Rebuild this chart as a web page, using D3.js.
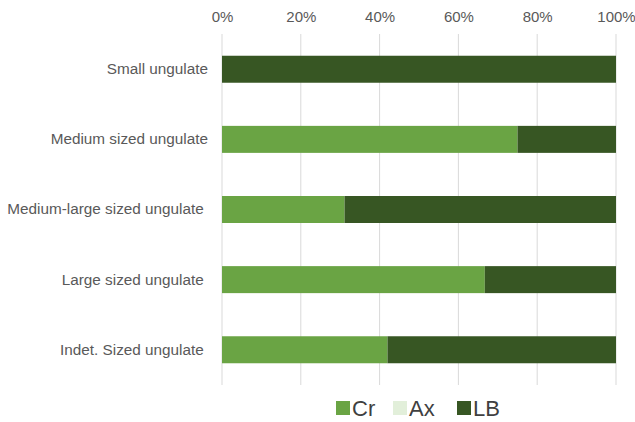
<!DOCTYPE html>
<html>
<head>
<meta charset="utf-8">
<script src="https://cdn.jsdelivr.net/npm/d3@7"></script>
<style>
  body { margin: 0; background: #fff; }
  svg { font-family: "Liberation Sans", Arial, sans-serif; }
</style>
</head>
<body>
<svg id="chart" width="635" height="422"></svg>
<script>
// Categories (top to bottom) and share of each element group per category
const categories = [
  "Small ungulate",
  "Medium sized ungulate",
  "Medium-large sized ungulate ",
  "Large sized ungulate ",
  "Indet. Sized ungulate "
];
const seriesNames = ["Cr", "Ax", "LB"];
const crValues = [0, 75, 31.1, 66.7, 42.0];
const axValues = [0, 0, 0, 0, 0];
const lbValues = [100, 25, 68.9, 33.3, 58.0];
const tickValues = [0, 0.2, 0.4, 0.6, 0.8, 1.0];
const colors = ["#6aa444", "#e2efda", "#375623"];

const svg = d3.select("#chart");
const margin = { top: 34, right: 19, bottom: 37, left: 222 };
const W = 635, H = 422;

const rows = categories.map((c, i) => ({
  cat: c, Cr: crValues[i], Ax: axValues[i], LB: lbValues[i]
}));

const x = d3.scaleLinear().domain([0, 1]).range([margin.left, W - margin.right]);
const y = d3.scaleBand().domain(categories)
  .range([margin.top, H - margin.bottom]).paddingInner(0.615).paddingOuter(0.31);

const stack = d3.stack().keys(seriesNames).offset(d3.stackOffsetExpand);
const layers = stack(rows);

// Vertical gridlines
svg.append("g").selectAll("line").data(tickValues).join("line")
  .attr("x1", d => x(d)).attr("x2", d => x(d))
  .attr("y1", margin.top).attr("y2", H - margin.bottom)
  .attr("stroke", "#d9d9d9").attr("stroke-width", 1);

// Top axis labels
const xAxis = d3.axisTop(x).tickValues(tickValues).tickFormat(d3.format(".0%")).tickSize(0).tickPadding(12);
const gx = svg.append("g").attr("transform", `translate(0,${margin.top})`).call(xAxis);
gx.select(".domain").remove();
gx.selectAll("text").attr("fill", "#595959").style("font-size", "15px")
  .style("font-family", "'Liberation Sans', Arial, sans-serif");

// Stacked bars
svg.append("g").selectAll("g").data(layers).join("g")
  .attr("fill", (d, i) => colors[i])
  .selectAll("rect").data(d => d).join("rect")
  .attr("x", d => x(d[0]))
  .attr("width", d => x(d[1]) - x(d[0]))
  .attr("y", d => y(d.data.cat))
  .attr("height", y.bandwidth());

// Category labels
const yAxis = d3.axisLeft(y).tickSize(0).tickPadding(14);
const gy = svg.append("g").attr("transform", `translate(${margin.left},0)`).call(yAxis);
gy.select(".domain").remove();
gy.selectAll("text").attr("fill", "#595959").style("font-size", "15.3px")
  .style("white-space", "pre")
  .style("font-family", "'Liberation Sans', Arial, sans-serif");

// Legend
const legendX = [336, 393, 457];
const legend = svg.append("g").attr("transform", "translate(0,401)");
seriesNames.forEach((name, i) => {
  legend.append("rect").attr("x", legendX[i]).attr("y", 0)
    .attr("width", 14).attr("height", 14).attr("fill", colors[i]);
  legend.append("text").attr("x", legendX[i] + 16).attr("y", 14.5)
    .attr("fill", "#404040").style("font-size", "22px").text(name);
});
</script>
</body>
</html>
